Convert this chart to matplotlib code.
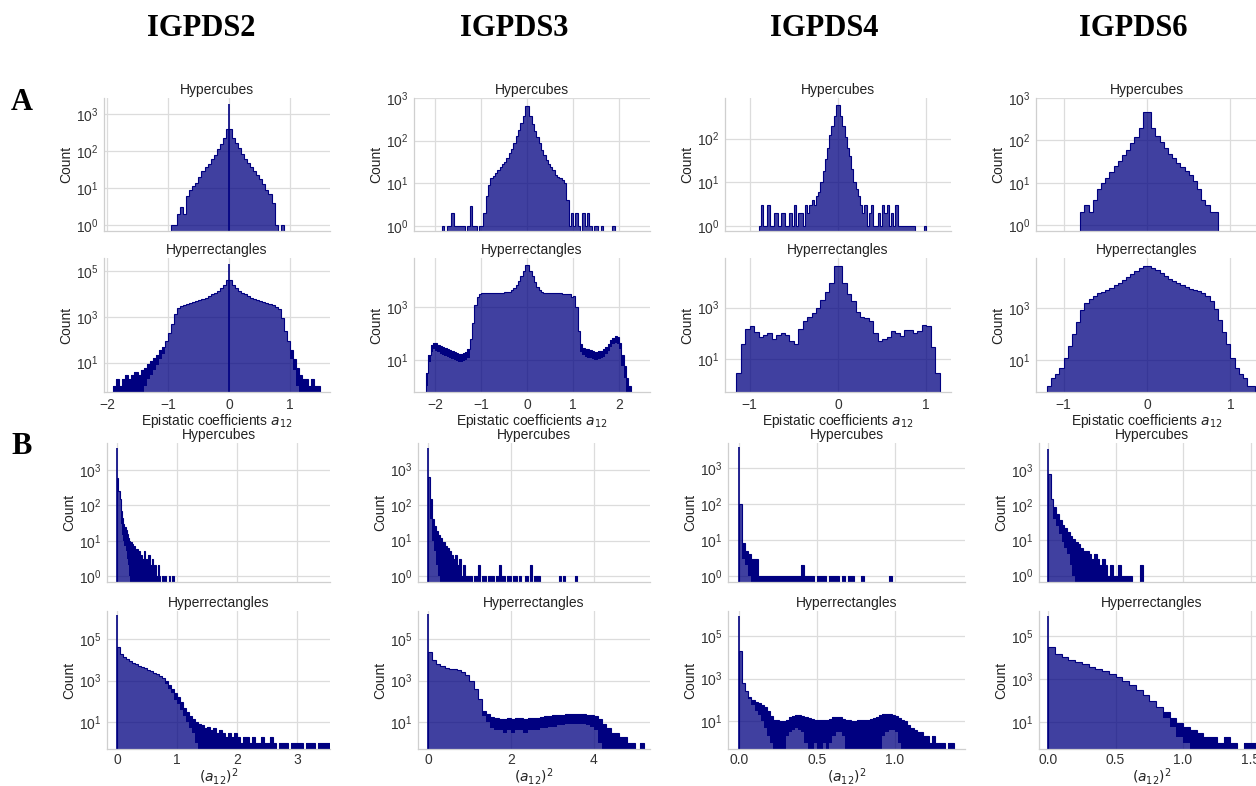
import numpy as np
import matplotlib.pyplot as plt

plt.rcParams['font.family'] = ['Liberation Sans', 'DejaVu Sans']
plt.rcParams['font.size'] = 10

series_names = ['IGPDS2', 'IGPDS3', 'IGPDS4', 'IGPDS6']
shape_names = ['Hypercubes', 'Hyperrectangles']

# ---- part A: epistatic coefficients a12, counts per bin ----
# bins are (first left edge, bin width); spike = narrow count at exactly 0
# *_low = lower edge of the noisy band (None where the curve is smooth)
igpds2_a_cubes_bins = (-1.0, 0.05)
igpds2_a_cubes = [0, 1, 1, 2, 3, 2, 6, 9, 11, 14,
                  20, 28, 36, 45, 60, 80, 110, 150, 220, 380,
                  380, 220, 160, 120, 85, 62, 48, 36, 28, 22,
                  17, 13, 9, 7, 4, 1, 0, 1]
igpds2_a_cubes_low = None
igpds2_a_cubes_spike = 1800

igpds2_a_rects_bins = (-1.95, 0.05)
igpds2_a_rects = [0, 1, 2, 1, 2, 3, 2, 3, 4, 3,
                  5, 6, 9, 12, 16, 22, 35, 50, 90, 200,
                  500, 1300, 2500, 3000, 3300, 3600, 4000, 4400, 4800, 5500,
                  6000, 7000, 8000, 9500, 11000, 14000, 18000, 25000, 42000,
                  42000, 25000, 18000, 14000, 11000, 9500, 8000, 7000, 6000, 5500,
                  4800, 4400, 4000, 3600, 3200, 2800, 2200, 900, 250, 90,
                  35, 15, 6, 3, 2, 2, 1, 2, 1, 1]
igpds2_a_rects_low = [0, 0, 0, 0, 0, 0, 0, 0, 0, 0,
                      0, 1, 2, 3, 5, 8, 14, 25, None, None,
                      None, None, None, None, None, None, None, None, None, None,
                      None, None, None, None, None, None, None, None, None,
                      None, None, None, None, None, None, None, None, None, None,
                      None, None, None, None, None, None, None, None, None, None,
                      15, 5, 1, 0, 0, 0, 0, 0, 0, 0]
igpds2_a_rects_spike = 200000

igpds3_a_cubes_bins = (-1.85, 0.05)
igpds3_a_cubes = [1, 0, 1, 1, 2, 1, 1, 1, 1, 1,
                  0, 1, 3, 1, 1, 0, 1, 1, 2, 5,
                  9, 13, 15, 17, 20, 24, 28, 32, 40, 50,
                  65, 90, 125, 180, 260, 380, 650,
                  650, 380, 250, 170, 120, 90, 60, 45, 35, 28,
                  24, 20, 16, 14, 13, 12, 10, 4, 1, 2,
                  1, 2, 1, 0, 2, 1, 2, 1, 0, 1,
                  1, 0, 1, 0, 0, 0, 0, 1, 0]
igpds3_a_cubes_low = None
igpds3_a_cubes_spike = None

igpds3_a_rects_bins = (-2.25, 0.05)
igpds3_a_rects = [0, 3, 15, 35, 45, 42, 38, 32, 30, 28,
                  26, 24, 22, 20, 18, 17, 16, 18, 20, 25,
                  60, 250, 1200, 2500, 3200, 3500, 3600, 3600, 3600, 3600,
                  3600, 3600, 3600, 3600, 3600, 3700, 3800, 4000, 4500, 5500,
                  7000, 10000, 16000, 25000, 40000,
                  40000, 25000, 15000, 9000, 6000, 4500, 3800, 3600, 3500, 3500,
                  3500, 3500, 3400, 3400, 3400, 3300, 3300, 3300, 3200, 2500,
                  2800, 1000, 120, 40, 28, 26, 25, 24, 22, 20,
                  20, 21, 22, 25, 30, 40, 55, 70, 80, 75,
                  45, 15, 6, 2, 1, 0]
igpds3_a_rects_low = [None, 1, 8, 20, 25, 22, 20, 17, 15, 14,
                      13, 12, 11, 10, 9, 8, 8, 9, 10, 12,
                      None, None, None, None, None, None, None, None, None, None,
                      None, None, None, None, None, None, None, None, None, None,
                      None, None, None, None, None,
                      None, None, None, None, None, None, None, None, None, None,
                      None, None, None, None, None, None, None, None, None, None,
                      None, None, None, 20, 15, 13, 12, 12, 11, 10,
                      10, 11, 12, 13, 16, 22, 30, 40, 45, 40,
                      25, 6, 2, 0, 0, None]
igpds3_a_rects_spike = None

igpds4_a_cubes_bins = (-0.925, 0.025)
igpds4_a_cubes = [0, 1, 3, 1, 1, 3, 1, 1, 2, 2,
                  1, 2, 2, 1, 1, 2, 1, 3, 1, 2,
                  2, 1, 3, 2, 3, 4, 3, 5, 6, 10,
                  18, 35, 60, 120, 200, 330, 600,
                  600, 330, 200, 110, 60, 40, 20, 10, 7, 5,
                  3, 2, 3, 1, 2, 3, 1, 1, 2, 1,
                  3, 2, 3, 1, 2, 1, 3, 1, 1, 1,
                  1, 1, 1, 1, 1, 0, 0, 0, 0, 1]
igpds4_a_cubes_low = None
igpds4_a_cubes_spike = None

igpds4_a_rects_bins = (-1.15, 0.05)
igpds4_a_rects = [3, 40, 150, 200, 110, 75, 90, 100, 60, 90,
                  100, 85, 50, 40, 150, 300, 420, 600, 1000, 2000,
                  4000, 9000, 40000,
                  40000, 9000, 3500, 1800, 700, 450, 400, 300, 100, 50,
                  60, 75, 120, 100, 80, 140, 130, 100, 120, 220,
                  200, 30, 3]
igpds4_a_rects_low = None
igpds4_a_rects_spike = None

igpds6_a_cubes_bins = (-0.8, 0.05)
igpds6_a_cubes = [2, 3, 2, 4, 7, 10, 13, 18, 25, 33,
                  45, 60, 85, 120, 200, 480,
                  480, 200, 125, 90, 65, 48, 38, 30, 24, 19,
                  15, 11, 7, 4, 3, 2, 2]
igpds6_a_cubes_low = None
igpds6_a_cubes_spike = None

igpds6_a_rects_bins = (-1.2, 0.05)
igpds6_a_rects = [1, 2, 3, 5, 12, 35, 100, 300, 800, 1500,
                  2200, 3000, 3600, 4200, 5000, 6000, 7500, 9500, 12000, 15000,
                  20000, 26000, 33000, 42000,
                  42000, 35000, 28000, 22000, 17000, 13000, 11000, 9000, 7500, 6500,
                  5500, 4800, 4500, 3900, 2800, 1800, 900, 350, 120, 40,
                  12, 5, 3, 2, 1, 1]
igpds6_a_rects_low = None
igpds6_a_rects_spike = None

# ---- part B: squared coefficients (a12)^2 ----
igpds2_b_cubes_bins = (0.0, 0.02)
igpds2_b_cubes = [600, 250, 150, 70, 45, 30, 25, 20, 16, 12,
                  10, 9, 8, 6, 7, 5, 6, 4, 5, 3,
                  4, 3, 5, 2, 3, 2, 4, 1, 2, 3,
                  1, 2, 1, 1, 2, 1, 0, 1, 1, 0,
                  1, 0, 0, 1, 0, 0, 1]
igpds2_b_cubes_low = [None, None, None, 30, 15, 10, 7, 5, 3, 2,
                      1, 0, 0, 0, 0, 0, 0, 0, 0, 0,
                      0, 0, 0, 0, 0, 0, 0, 0, 0, 0,
                      0, 0, 0, 0, 0, 0, 0, 0, 0, 0,
                      0, 0, 0, 0, 0, 0, 0]
igpds2_b_cubes_spike = 4300

igpds2_b_rects_bins = (0.0, 0.05)
igpds2_b_rects = [40000, 20000, 14000, 11000, 8500, 7000, 6000, 5200, 4500, 3800,
                  3200, 2800, 2400, 2000, 1700, 1300, 900, 600, 400, 250,
                  160, 90, 50, 30, 20, 14, 10, 8, 7, 5,
                  6, 4, 5, 3, 4, 3, 2, 3, 2, 3,
                  2, 1, 2, 2, 1, 2, 1, 1, 2, 1,
                  1, 2, 1, 0, 1, 1, 1, 0, 1, 1,
                  1, 1, 0, 1, 1, 1, 0, 1, 1, 1, 1]
igpds2_b_rects_low = [None, None, None, None, None, None, None, None, None, None,
                      None, None, None, None, None, None, 700, 400, 250, 120,
                      70, 40, 20, 10, 5, 3, 1, 0, 0, 0,
                      0, 0, 0, 0, 0, 0, 0, 0, 0, 0,
                      0, 0, 0, 0, 0, 0, 0, 0, 0, 0,
                      0, 0, 0, 0, 0, 0, 0, 0, 0, 0,
                      0, 0, 0, 0, 0, 0, 0, 0, 0, 0, 0]
igpds2_b_rects_spike = 1.4e6

igpds3_b_cubes_bins = (0.0, 0.05)
igpds3_b_cubes = [600, 150, 40, 25, 18, 14, 12, 9, 7, 6,
                  5, 4, 3, 4, 2, 3, 1, 2, 1, 1,
                  1, 0, 1, 1, 2, 0, 1, 1, 0, 1,
                  1, 1, 0, 1, 2, 1, 1, 0, 1, 1,
                  0, 1, 1, 0, 1, 0, 0, 1, 0, 2,
                  0, 1, 1, 1, 0, 0, 0, 0, 0, 0,
                  0, 0, 0, 1, 0, 1, 0, 0, 0, 0, 0, 1]
igpds3_b_cubes_low = [None, 40, 10, 5, 2, 1] + [0] * 66
igpds3_b_cubes_spike = 4000

igpds3_b_rects_bins = (0.0, 0.1)
igpds3_b_rects = [25000, 10000, 6500, 4800, 4000, 3700, 3500, 3200, 2600, 1800,
                  1000, 400, 130, 35, 25, 18, 15, 14, 14, 15,
                  14, 15, 15, 14, 15, 16, 16, 18, 19, 20,
                  21, 22, 23, 24, 25, 25, 25, 24, 23, 22,
                  20, 14, 8, 5, 3, 3, 2, 2, 1, 1,
                  0, 1]
igpds3_b_rects_low = [None, None, None, None, None, None, None, None, None, None,
                      None, None, None, 20, 10, 5, 4, 4, 3, 4,
                      3, 4, 4, 3, 4, 4, 4, 5, 5, 6,
                      6, 7, 7, 8, 8, 8, 8, 8, 7, 6,
                      4, 1, 0, 0, 0, 0, 0, 0, 0, 0,
                      0, 0]
igpds3_b_rects_spike = 1.6e6

igpds4_b_cubes_bins = (0.0, 0.02)
igpds4_b_cubes = [100, 8, 5, 4, 3, 3, 1, 1, 1, 1,
                  1, 1, 1, 1, 1, 1, 1, 1, 1, 1,
                  2, 1, 1, 1, 0, 1, 1, 1, 0, 1,
                  1, 1, 0, 1, 0, 1, 1, 0, 0, 1,
                  0, 0, 0, 0, 0, 0, 0, 0, 1, 0]
igpds4_b_cubes_low = [None, 3, 2, 1] + [0] * 46
igpds4_b_cubes_spike = 4000

igpds4_b_rects_bins = (0.0, 0.02)
igpds4_b_rects = [20000, 600, 250, 130, 100, 80, 70, 60, 45, 30,
                  18, 12, 11, 10, 10, 12, 15, 18, 20, 20,
                  18, 16, 14, 13, 12, 12, 11, 11, 12, 13,
                  15, 16, 15, 13, 12, 11, 10, 10, 11, 12,
                  12, 12, 13, 14, 16, 19, 21, 22, 22, 20,
                  18, 14, 12, 10, 7, 5, 4, 3, 3, 2,
                  2, 1, 2, 1, 1, 1, 0, 1, 1]
igpds4_b_rects_low = [None, None, None, 110, 60, 30, 19, 10, 5, 2,
                      1, 0, 0, 0, 0, 2, 3, 4, 5, 4,
                      3, 1, 0, 0, 1, 0, 0, 1, 0, 1,
                      2, 3, 3, 2, 0, 0, 0, 0, 0, 0,
                      0, 0, 0, 0, 0, 0, 2, 3, 4, 4,
                      3, 1, 0, 0, 0, 0, 0, 0, 0, 0,
                      0, 0, 0, 0, 0, 0, 0, 0, 0]
igpds4_b_rects_spike = 8.5e5

igpds6_b_cubes_bins = (0.0, 0.02)
igpds6_b_cubes = [800, 150, 90, 55, 38, 28, 22, 17, 13, 11,
                  9, 8, 6, 5, 5, 4, 3, 4, 3, 2,
                  3, 2, 1, 2, 1, 1, 2, 1, 1, 1,
                  1, 0, 0, 0, 2]
igpds6_b_cubes_low = [None, None, 40, 25, 15, 9, 6, 4, 2, 1] + [0] * 25
igpds6_b_cubes_spike = 4000

igpds6_b_rects_bins = (0.0, 0.05)
igpds6_b_rects = [30000, 15000, 10000, 7500, 6000, 4800, 3700, 3000, 2300, 1700,
                  1200, 800, 500, 300, 170, 90, 50, 28, 15, 9,
                  6, 4, 3, 2, 2, 1, 2, 1, 0, 1,
                  1]
igpds6_b_rects_low = [None] * 17 + [15, 6, 2, 1, 0, 0, 0, 0, 0, 0, 0, 0, 0, 0]
igpds6_b_rects_spike = 8.5e5

rows = [
    [(igpds2_a_cubes_bins, igpds2_a_cubes, igpds2_a_cubes_low, igpds2_a_cubes_spike),
     (igpds3_a_cubes_bins, igpds3_a_cubes, igpds3_a_cubes_low, igpds3_a_cubes_spike),
     (igpds4_a_cubes_bins, igpds4_a_cubes, igpds4_a_cubes_low, igpds4_a_cubes_spike),
     (igpds6_a_cubes_bins, igpds6_a_cubes, igpds6_a_cubes_low, igpds6_a_cubes_spike)],
    [(igpds2_a_rects_bins, igpds2_a_rects, igpds2_a_rects_low, igpds2_a_rects_spike),
     (igpds3_a_rects_bins, igpds3_a_rects, igpds3_a_rects_low, igpds3_a_rects_spike),
     (igpds4_a_rects_bins, igpds4_a_rects, igpds4_a_rects_low, igpds4_a_rects_spike),
     (igpds6_a_rects_bins, igpds6_a_rects, igpds6_a_rects_low, igpds6_a_rects_spike)],
    [(igpds2_b_cubes_bins, igpds2_b_cubes, igpds2_b_cubes_low, igpds2_b_cubes_spike),
     (igpds3_b_cubes_bins, igpds3_b_cubes, igpds3_b_cubes_low, igpds3_b_cubes_spike),
     (igpds4_b_cubes_bins, igpds4_b_cubes, igpds4_b_cubes_low, igpds4_b_cubes_spike),
     (igpds6_b_cubes_bins, igpds6_b_cubes, igpds6_b_cubes_low, igpds6_b_cubes_spike)],
    [(igpds2_b_rects_bins, igpds2_b_rects, igpds2_b_rects_low, igpds2_b_rects_spike),
     (igpds3_b_rects_bins, igpds3_b_rects, igpds3_b_rects_low, igpds3_b_rects_spike),
     (igpds4_b_rects_bins, igpds4_b_rects, igpds4_b_rects_low, igpds4_b_rects_spike),
     (igpds6_b_rects_bins, igpds6_b_rects, igpds6_b_rects_low, igpds6_b_rects_spike)],
]

# ---- layout (pixels of the 1256x786 canvas) ----
W, H = 1256, 786
row_top_bottom = [(98, 231), (258, 392), (443, 582), (611, 749)]
a_left_right = [(104, 330), (414, 650), (725, 951), (1036, 1258)]
b_left_right = [(107, 330), (418, 650), (728, 965), (1039, 1264)]
a_xlims = [(-2.05, 1.66), (-2.46, 2.67), (-1.28, 1.28), (-1.33, 1.33)]
b_xlims = [(-0.17, 3.55), (-0.24, 5.35), (-0.07, 1.45), (-0.067, 1.6)]
a_xticks = [[-2, -1, 0, 1], [-2, -1, 0, 1, 2], [-1, 0, 1], [-1, 0, 1]]
b_xticks = [[0, 1, 2, 3], [0, 2, 4], [0, 0.5, 1.0], [0, 0.5, 1.0, 1.5]]
ylims_log = [
    [(-0.16, 3.43), (-0.12, 3.0), (-0.11, 2.93), (-0.14, 3.0)],
    [(-0.28, 5.57), (-0.23, 4.88), (-0.27, 4.92), (-0.23, 4.92)],
    [(-0.17, 3.77), (-0.17, 3.75), (-0.17, 3.7), (-0.18, 3.77)],
    [(-0.30, 6.35), (-0.30, 6.35), (-0.30, 6.16), (-0.26, 6.16)],
]
yticks_log = [
    [[0, 1, 2, 3], [0, 1, 2, 3], [0, 1, 2], [0, 1, 2, 3]],
    [[1, 3, 5], [1, 3], [1, 3], [1, 3]],
    [[0, 1, 2, 3]] * 4,
    [[1, 3, 5]] * 4,
]

FILL = (0.0, 0.0, 0.5, 0.75)
EDGE = 'navy'
GRID = '#dcdcdc'
BASE = 1e-3


def draw_hist(ax, bins, counts, low, spike):
    start, width = bins
    counts = np.asarray(counts, dtype=float)
    counts = np.where(counts > 0, counts, BASE)
    edges = start + width * np.arange(len(counts) + 1)
    ax.stairs(counts, edges, fill=True, baseline=BASE,
              facecolor=FILL, edgecolor=EDGE, linewidth=0.8)
    if low is not None:
        lo = np.array([np.nan if v is None else v for v in low], dtype=float)
        lo = np.where(np.isnan(lo), counts, np.maximum(lo, BASE))
        # dense band of overlapping bar outlines in the noisy parts
        ax.stairs(counts, edges, baseline=lo, fill=True,
                  facecolor=EDGE, edgecolor='none', linewidth=0)
    if spike:
        ax.vlines(0, BASE, spike, color=EDGE, linewidth=1.2)


fig = plt.figure(figsize=(W / 100, H / 100), dpi=100)

for r in range(4):
    top, bottom = row_top_bottom[r]
    for c in range(4):
        left, right = (a_left_right if r < 2 else b_left_right)[c]
        ax = fig.add_axes([left / W, 1 - bottom / H, (right - left) / W, (bottom - top) / H])
        bins, counts, low, spike = rows[r][c]
        draw_hist(ax, bins, counts, low, spike)

        ax.set_yscale('log')
        lo, hi = ylims_log[r][c]
        ax.set_ylim(10 ** lo, 10 ** hi)
        ax.set_yticks([10.0 ** k for k in yticks_log[r][c]])
        ax.yaxis.set_minor_locator(plt.NullLocator())
        if r < 2:
            ax.set_xlim(*a_xlims[c])
            ax.set_xticks(a_xticks[c])
        else:
            ax.set_xlim(*b_xlims[c])
            ax.set_xticks(b_xticks[c])

        ax.set_axisbelow(True)
        ax.grid(True, color=GRID, linewidth=0.9)
        for side in ['top', 'right']:
            ax.spines[side].set_visible(False)
        for side in ['left', 'bottom']:
            ax.spines[side].set_color('#cfcfcf')
            ax.spines[side].set_linewidth(0.9)
        ax.tick_params(length=0, labelsize=10, colors='#333333', pad=4)
        ax.set_title(shape_names[r % 2], fontsize=10, pad=3, color='#222222')
        ax.set_ylabel('Count', fontsize=10, labelpad=2, color='#222222')

        if r % 2 == 0:
            ax.tick_params(labelbottom=False)
        elif r == 1:
            ax.set_xlabel('Epistatic coefficients $a_{12}$', fontsize=10, labelpad=0, color='#222222')
        else:
            ax.tick_params(axis='x', pad=3)
            ax.set_xlabel('$(a_{12})^2$', fontsize=10, labelpad=-0.5, color='#222222')

header_x = [201, 514, 824, 1133]
for name, x in zip(series_names, header_x):
    fig.text(x / W, 1 - 29 / H, name, ha='center', va='center', fontsize=22,
             fontweight='bold', family='Liberation Serif')
for label, y in [('A', 103), ('B', 447)]:
    fig.text(22 / W, 1 - y / H, label, ha='center', va='center', fontsize=22,
             fontweight='bold', family='Liberation Serif')

fig.savefig('out.png', dpi=100)
plt.close(fig)
